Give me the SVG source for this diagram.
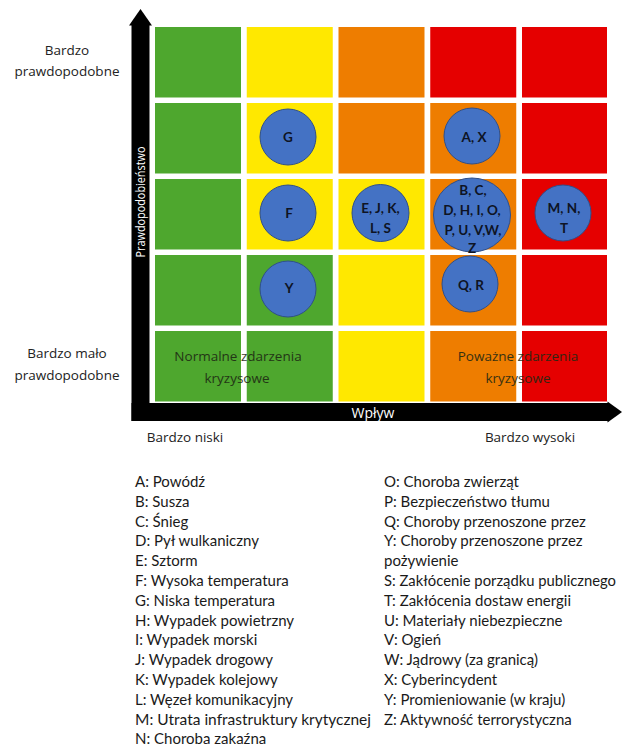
<svg xmlns="http://www.w3.org/2000/svg" width="622" height="747" viewBox="0 0 622 747">
  <style>
    .g { fill: #4ea72e; }
    .y { fill: #ffe800; }
    .o { fill: #ee7d00; }
    .r { fill: #e50000; }
    .axis { fill: #000000; }
    .risk { fill: #4472c4; stroke: #2f4f8a; stroke-width: 1; }
    .rl { font-family: Lato, "Liberation Sans", sans-serif; font-weight: bold; font-size: 13.5px; fill: #0e1424; text-anchor: middle; }
    .side { font-family: "Open Sans", "Noto Sans", sans-serif; font-size: 13.5px; fill: #222222; text-anchor: middle; }
    .zone { font-family: "Open Sans", "Noto Sans", sans-serif; font-size: 13.5px; fill: #1e2a14; text-anchor: middle; opacity: 0.9; }
    .atitle { font-family: "Open Sans", "Noto Sans", sans-serif; fill: #ffffff; text-anchor: middle; }
    .leg { font-family: Lato, "Liberation Sans", sans-serif; font-size: 15px; fill: #1a1a1a; }
  </style>
  <rect width="622" height="747" fill="#ffffff"/>

  <!-- risk matrix: 5 x 5 cells, probability rows (top = high), impact columns -->
  <g id="matrix">
    <rect class="g" x="155" y="27" width="86" height="70.5"/>
    <rect class="y" x="246.75" y="27" width="86" height="70.5"/>
    <rect class="o" x="338.5" y="27" width="86" height="70.5"/>
    <rect class="r" x="430.25" y="27" width="86" height="70.5"/>
    <rect class="r" x="522" y="27" width="85" height="70.5"/>

    <rect class="g" x="155" y="103" width="86" height="70.5"/>
    <rect class="y" x="246.75" y="103" width="86" height="70.5"/>
    <rect class="o" x="338.5" y="103" width="86" height="70.5"/>
    <rect class="o" x="430.25" y="103" width="86" height="70.5"/>
    <rect class="r" x="522" y="103" width="85" height="70.5"/>

    <rect class="g" x="155" y="179" width="86" height="70.5"/>
    <rect class="y" x="246.75" y="179" width="86" height="70.5"/>
    <rect class="y" x="338.5" y="179" width="86" height="70.5"/>
    <rect class="o" x="430.25" y="179" width="86" height="70.5"/>
    <rect class="r" x="522" y="179" width="85" height="70.5"/>

    <rect class="g" x="155" y="255" width="86" height="70.5"/>
    <rect class="g" x="246.75" y="255" width="86" height="70.5"/>
    <rect class="y" x="338.5" y="255" width="86" height="70.5"/>
    <rect class="o" x="430.25" y="255" width="86" height="70.5"/>
    <rect class="r" x="522" y="255" width="85" height="70.5"/>

    <rect class="g" x="155" y="331" width="86" height="70.5"/>
    <rect class="g" x="246.75" y="331" width="86" height="70.5"/>
    <rect class="y" x="338.5" y="331" width="86" height="70.5"/>
    <rect class="o" x="430.25" y="331" width="86" height="70.5"/>
    <rect class="r" x="522" y="331" width="85" height="70.5"/>
  </g>

  <!-- axes -->
  <g id="axes">
    <rect class="axis" x="131.5" y="24" width="18" height="397"/>
    <polygon class="axis" points="129,25.5 140.5,9 152,25.5"/>
    <rect class="axis" x="131.5" y="403" width="477" height="18"/>
    <polygon class="axis" points="607.5,401.5 622,412 607.5,422.5"/>
    <text class="atitle" font-size="13" x="0" y="0" transform="translate(145,202) rotate(-90)" textLength="111" lengthAdjust="spacingAndGlyphs">Prawdopodobieństwo</text>
    <text class="atitle" font-size="14" x="373" y="417.5">Wpływ</text>
  </g>

  <!-- scale labels -->
  <g id="scale-labels">
    <text class="side" x="67" y="55">Bardzo</text>
    <text class="side" x="67" y="76">prawdopodobne</text>
    <text class="side" x="67" y="358">Bardzo mało</text>
    <text class="side" x="67" y="380">prawdopodobne</text>
    <text class="side" x="185" y="442">Bardzo niski</text>
    <text class="side" x="530" y="442">Bardzo wysoki</text>
  </g>

  <!-- zone captions -->
  <g id="zones">
    <text class="zone" x="238" y="361">Normalne zdarzenia</text>
    <text class="zone" x="237" y="383">kryzysowe</text>
    <text class="zone" x="518" y="361">Poważne zdarzenia</text>
    <text class="zone" x="518" y="383">kryzysowe</text>
  </g>

  <!-- risks placed in the matrix -->
  <g id="risk-G">
    <circle class="risk" cx="288" cy="137" r="28"/>
    <text class="rl" x="288" y="141.5">G</text>
  </g>
  <g id="risk-AX">
    <circle class="risk" cx="472" cy="136" r="28"/>
    <text class="rl" x="474" y="141.5">A, X</text>
  </g>
  <g id="risk-F">
    <circle class="risk" cx="288" cy="213" r="28"/>
    <text class="rl" x="289" y="218">F</text>
  </g>
  <g id="risk-EJKLS">
    <circle class="risk" cx="380.5" cy="213" r="28.5"/>
    <text class="rl" x="380.5" y="212.5">E, J, K,</text>
    <text class="rl" x="380.5" y="233">L, S</text>
  </g>
  <g id="risk-BCDHIOPUVWZ">
    <ellipse class="risk" cx="472" cy="215" rx="38.5" ry="37"/>
    <text class="rl" x="473" y="195">B, C,</text>
    <text class="rl" x="472" y="215">D, H, I, O,</text>
    <text class="rl" x="473" y="235">P, U, V,W,</text>
    <text class="rl" x="472" y="253">Z</text>
  </g>
  <g id="risk-MNT">
    <circle class="risk" cx="563" cy="213" r="28"/>
    <text class="rl" x="564" y="213">M, N,</text>
    <text class="rl" x="564" y="233">T</text>
  </g>
  <g id="risk-Y">
    <circle class="risk" cx="288" cy="289" r="28"/>
    <text class="rl" x="289" y="293">Y</text>
  </g>
  <g id="risk-QR">
    <circle class="risk" cx="470" cy="284" r="28"/>
    <text class="rl" x="471" y="290">Q, R</text>
  </g>

  <!-- legend -->
  <g id="legend-left">
    <text class="leg" x="135" y="487">A: Powódź</text>
    <text class="leg" x="135" y="506.8">B: Susza</text>
    <text class="leg" x="135" y="526.6">C: Śnieg</text>
    <text class="leg" x="135" y="546.4">D: Pył wulkaniczny</text>
    <text class="leg" x="135" y="566.2">E: Sztorm</text>
    <text class="leg" x="135" y="586">F: Wysoka temperatura</text>
    <text class="leg" x="135" y="605.8">G: Niska temperatura</text>
    <text class="leg" x="135" y="625.6">H: Wypadek powietrzny</text>
    <text class="leg" x="135" y="645.4">I: Wypadek morski</text>
    <text class="leg" x="135" y="665.2">J: Wypadek drogowy</text>
    <text class="leg" x="135" y="685">K: Wypadek kolejowy</text>
    <text class="leg" x="135" y="704.8">L: Węzeł komunikacyjny</text>
    <text class="leg" x="135" y="724.6" textLength="236" lengthAdjust="spacingAndGlyphs">M: Utrata infrastruktury krytycznej</text>
    <text class="leg" x="135" y="744.4">N: Choroba zakaźna</text>
  </g>
  <g id="legend-right">
    <text class="leg" x="384" y="487">O: Choroba zwierząt</text>
    <text class="leg" x="384" y="506.8">P: Bezpieczeństwo tłumu</text>
    <text class="leg" x="384" y="526.6">Q: Choroby przenoszone przez</text>
    <text class="leg" x="384" y="546.4">Y: Choroby przenoszone przez</text>
    <text class="leg" x="384" y="566.2">pożywienie</text>
    <text class="leg" x="384" y="586" textLength="232" lengthAdjust="spacingAndGlyphs">S: Zakłócenie porządku publicznego</text>
    <text class="leg" x="384" y="605.8">T: Zakłócenia dostaw energii</text>
    <text class="leg" x="384" y="625.6">U: Materiały niebezpieczne</text>
    <text class="leg" x="384" y="645.4">V: Ogień</text>
    <text class="leg" x="384" y="665.2">W: Jądrowy (za granicą)</text>
    <text class="leg" x="384" y="685">X: Cyberincydent</text>
    <text class="leg" x="384" y="704.8">Y: Promieniowanie (w kraju)</text>
    <text class="leg" x="384" y="724.6">Z: Aktywność terrorystyczna</text>
  </g>
</svg>
